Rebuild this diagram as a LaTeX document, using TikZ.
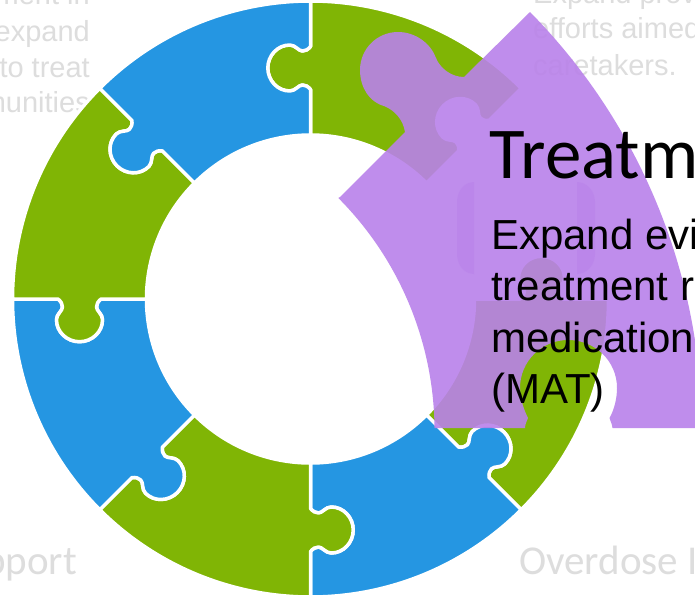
\documentclass[tikz,border=0pt]{standalone}
\usepackage{fontspec}
\setmainfont{Liberation Sans}
\newfontfamily\calf{Carlito}
\definecolor{pzgreen}{HTML}{80B505}
\definecolor{pzblue}{HTML}{2596E2}
\definecolor{pzpurple}{HTML}{B981EA}
\definecolor{pzgray}{HTML}{DDDDDD}
\newcommand\piecepath{(0,164) -- (0,209.5)
  .. controls (-2.5,212.5) and (-5,214) .. (-8,214)
  .. controls (-12,214) and (-15,208) .. (-20.7,208)
  .. controls (-33,208) and (-42.7,218.5) .. (-42.7,231)
  .. controls (-42.7,243.5) and (-33,254) .. (-20.7,254)
  .. controls (-15,254) and (-12,248) .. (-8,248)
  .. controls (-5,248) and (-2.5,249.5) .. (0,252.5)
  -- (0,298) arc[start angle=90,end angle=45,radius=298pt]
  -- ([rotate=-45]0,252.5)
  .. controls ([rotate=-45]-2.5,249.5) and ([rotate=-45]-5,248) .. ([rotate=-45]-8,248)
  .. controls ([rotate=-45]-12,248) and ([rotate=-45]-15,254) .. ([rotate=-45]-20.7,254)
  .. controls ([rotate=-45]-33,254) and ([rotate=-45]-42.7,243.5) .. ([rotate=-45]-42.7,231)
  .. controls ([rotate=-45]-42.7,218.5) and ([rotate=-45]-33,208) .. ([rotate=-45]-20.7,208)
  .. controls ([rotate=-45]-15,208) and ([rotate=-45]-12,214) .. ([rotate=-45]-8,214)
  .. controls ([rotate=-45]-5,214) and ([rotate=-45]-2.5,212.5) .. ([rotate=-45]0,209.5)
  -- ([rotate=-45]0,164) arc[start angle=45,end angle=90,radius=164pt] -- cycle}
\tikzset{
  piece/.style={draw=white,line width=3.5pt,line join=round,fill=#1},
  bigpiece/.style={fill=pzpurple,fill opacity=0.9},
  faint/.style={fill=pzpurple,fill opacity=0.5},
  graytext/.style={text=pzgray,inner sep=0pt,font=\fontsize{29}{29}\selectfont},
  graycal/.style={text=pzgray,inner sep=0pt,font=\calf\fontsize{41}{41}\selectfont},
  bodytext/.style={text=black,inner sep=0pt,anchor=base west,font=\fontsize{42}{42}\selectfont},
}
\begin{document}
\begin{tikzpicture}[x=1pt,y=-1pt]
\clip (0,0) rectangle (695,597);
\fill[white] (0,0) rectangle (695,597);
% faded texts
\node[graytext,anchor=base east] (g1) at (90,5) {ment in};
\node[graytext,anchor=base east] (g2) at (90,41) {expand};
\node[graytext,anchor=base east] (g3) at (90,77) {to treat};
\node[graytext,anchor=base east] (g4) at (90,112) {munities};
\node[graytext,anchor=base west] (g5) at (533,3) {Expand prov};
\node[graytext,anchor=base west] (g6) at (533,38.5) {efforts aimed};
\node[graytext,anchor=base west] (g7) at (533,75) {caretakers.};
\node[graycal,anchor=base east] (g8) at (77,574) {pport};
\node[graycal,anchor=base west] (g9) at (519,574) {Overdose I};
% ring
\begin{scope}[shift={(310.5,299)},y=1pt]
  \foreach \ang/\col in {0/pzgreen,-90/pzgreen,-135/pzblue,-180/pzgreen,-225/pzblue,-270/pzgreen,-315/pzblue}{
    \begin{scope}[rotate=\ang]
      \path[piece=\col] \piecepath;
    \end{scope}
  }
\end{scope}
% lifted piece
\path[bigpiece] (340,197) -- (405,132)
  .. controls (403,119) and (394,110) .. (384,106)
  .. controls (369,102) and (360,87) .. (360,70)
  .. controls (360,49) and (377,32) .. (398,32)
  .. controls (416,32) and (431,44) .. (436,58)
  .. controls (440,68) and (451,77) .. (464,77)
  -- (530,12) arc[start angle=44.6,end angle=0,radius=597pt]
  -- (702,428) -- (612.5,428)
  .. controls (612,423) and (610,421) .. (609.5,418)
  .. controls (614,410) and (617,399) .. (617,388)
  .. controls (617,361) and (595,340) .. (568,340)
  .. controls (542,340) and (520,361) .. (520,388)
  .. controls (520,399) and (524,410) .. (528,418)
  .. controls (527,421) and (525,424) .. (525,428)
  -- (434.5,428) arc[start angle=0.5,end angle=44.9,radius=330pt] -- cycle;
\path[faint] (474,182) .. controls (464,182) and (457,191) .. (457,202) -- (457,254)
  .. controls (457,265) and (464,274) .. (474,274) -- cycle;
\path[faint] (577,182) .. controls (587,182) and (595,191) .. (595,202) -- (595,254)
  .. controls (595,265) and (587,274) .. (577,274) -- cycle;
% texts
\node[inner sep=0pt,anchor=base west,text=black,font=\calf\fontsize{73}{73}\selectfont] (title) at (489.5,178) {Treatm};
\node[bodytext] (b1) at (491,249) {Expand evi};
\node[bodytext] (b2) at (491,300) {treatment r};
\node[bodytext] (b3) at (491,352) {medication};
\node[bodytext] (b4) at (491,403) {(MAT)};
\end{tikzpicture}
\end{document}
